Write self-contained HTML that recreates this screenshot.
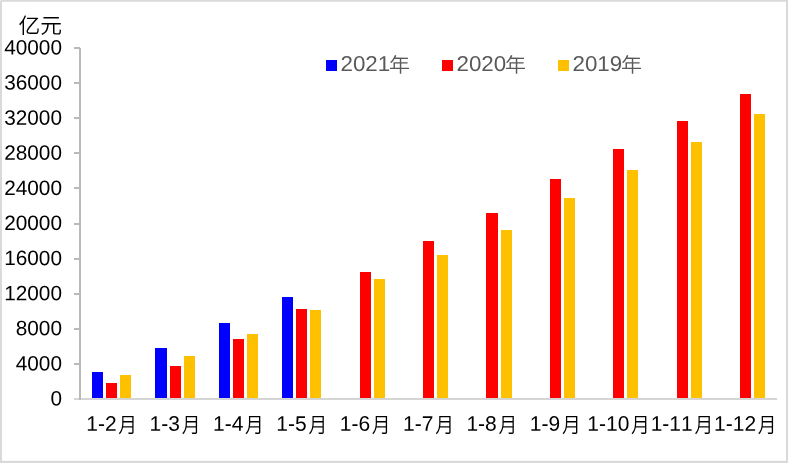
<!DOCTYPE html>
<html><head><meta charset="utf-8"><title>chart</title>
<style>
html,body{margin:0;padding:0;background:#fff;}
body{width:788px;height:463px;overflow:hidden;position:relative;}
.t{font-family:"Liberation Sans","Noto Sans CJK SC",sans-serif;font-size:21.0px;fill:#000;text-rendering:geometricPrecision;font-kerning:none;}
.g{fill:#595959;}
.m{font-size:21.1px;font-weight:350;}
.n{font-size:21px;font-weight:350;}
.u{font-size:21.3px;font-weight:350;}
.y{font-size:20.8px;}
.l{font-size:21.4px;}
</style></head><body>
<svg width="788" height="463" viewBox="0 0 788 463" style="position:absolute;left:0;top:0">
<rect x="0" y="0" width="788" height="463" fill="#fff"/>
<rect x="0" y="0" width="788" height="1.75" fill="#d9d9d9"/>
<rect x="0" y="0" width="1.95" height="463" fill="#d9d9d9"/>
<rect x="786" y="0" width="2" height="463" fill="#d9d9d9"/>
<rect x="0" y="460.8" width="788" height="2.2" fill="#d9d9d9"/>
<rect x="0" y="0" width="1" height="1" fill="#f2f2f2"/>
<g shape-rendering="crispEdges">
<rect x="92" y="372" width="11" height="26" fill="#0000ff"/>
<rect x="106" y="383" width="11" height="15" fill="#ff0000"/>
<rect x="120" y="375" width="11" height="23" fill="#ffc000"/>
<rect x="155" y="348" width="12" height="50" fill="#0000ff"/>
<rect x="170" y="366" width="11" height="32" fill="#ff0000"/>
<rect x="184" y="356" width="11" height="42" fill="#ffc000"/>
<rect x="219" y="323" width="11" height="75" fill="#0000ff"/>
<rect x="233" y="339" width="11" height="59" fill="#ff0000"/>
<rect x="247" y="334" width="11" height="64" fill="#ffc000"/>
<rect x="282" y="297" width="11" height="101" fill="#0000ff"/>
<rect x="296" y="309" width="11" height="89" fill="#ff0000"/>
<rect x="310" y="310" width="11" height="88" fill="#ffc000"/>
<rect x="360" y="272" width="11" height="126" fill="#ff0000"/>
<rect x="374" y="279" width="11" height="119" fill="#ffc000"/>
<rect x="423" y="241" width="11" height="157" fill="#ff0000"/>
<rect x="437" y="255" width="11" height="143" fill="#ffc000"/>
<rect x="486" y="213" width="12" height="185" fill="#ff0000"/>
<rect x="501" y="230" width="11" height="168" fill="#ffc000"/>
<rect x="550" y="179" width="11" height="219" fill="#ff0000"/>
<rect x="564" y="198" width="11" height="200" fill="#ffc000"/>
<rect x="613" y="149" width="11" height="249" fill="#ff0000"/>
<rect x="627" y="170" width="11" height="228" fill="#ffc000"/>
<rect x="677" y="121" width="11" height="277" fill="#ff0000"/>
<rect x="691" y="142" width="11" height="256" fill="#ffc000"/>
<rect x="740" y="94" width="11" height="304" fill="#ff0000"/>
<rect x="754" y="114" width="11" height="284" fill="#ffc000"/>
<rect x="74" y="398" width="703" height="2" fill="#d5d5d5"/>
<rect x="79" y="48" width="2" height="352" fill="#b9b9b9"/>
<rect x="74" y="363" width="6" height="2" fill="#b9b9b9"/>
<rect x="74" y="328" width="6" height="2" fill="#b9b9b9"/>
<rect x="74" y="293" width="6" height="2" fill="#b9b9b9"/>
<rect x="74" y="258" width="6" height="2" fill="#b9b9b9"/>
<rect x="74" y="223" width="6" height="2" fill="#b9b9b9"/>
<rect x="74" y="187" width="6" height="2" fill="#b9b9b9"/>
<rect x="74" y="152" width="6" height="2" fill="#b9b9b9"/>
<rect x="74" y="117" width="6" height="2" fill="#b9b9b9"/>
<rect x="74" y="82" width="6" height="2" fill="#b9b9b9"/>
<rect x="74" y="47" width="6" height="2" fill="#b9b9b9"/>
</g>
<text transform="translate(62.0,405.55) skewY(0.05)" text-anchor="end" class="t y">0</text>
<text transform="translate(62.0,370.45) skewY(0.05)" text-anchor="end" class="t y">4000</text>
<text transform="translate(62.0,335.35) skewY(0.05)" text-anchor="end" class="t y">8000</text>
<text transform="translate(62.0,300.25) skewY(0.05)" text-anchor="end" class="t y">12000</text>
<text transform="translate(62.0,265.15) skewY(0.05)" text-anchor="end" class="t y">16000</text>
<text transform="translate(62.0,230.05) skewY(0.05)" text-anchor="end" class="t y">20000</text>
<text transform="translate(62.0,194.95) skewY(0.05)" text-anchor="end" class="t y">24000</text>
<text transform="translate(62.0,159.85) skewY(0.05)" text-anchor="end" class="t y">28000</text>
<text transform="translate(62.0,124.75) skewY(0.05)" text-anchor="end" class="t y">32000</text>
<text transform="translate(62.0,89.65) skewY(0.05)" text-anchor="end" class="t y">36000</text>
<text transform="translate(62.0,54.55) skewY(0.05)" text-anchor="end" class="t y">40000</text>
<text transform="translate(18.6,33.35) skewY(0.05) scale(1.02,1)" class="t u">亿元</text>
<text transform="translate(86.26,430.75) skewY(0.05)" class="t">1-2</text>
<text transform="translate(118.35,432.4) skewY(0.05) scale(0.89,1)" class="t m">月</text>
<text transform="translate(149.62,430.75) skewY(0.05)" class="t">1-3</text>
<text transform="translate(181.72,432.4) skewY(0.05) scale(0.89,1)" class="t m">月</text>
<text transform="translate(212.99,430.75) skewY(0.05)" class="t">1-4</text>
<text transform="translate(245.08,432.4) skewY(0.05) scale(0.89,1)" class="t m">月</text>
<text transform="translate(276.35,430.75) skewY(0.05)" class="t">1-5</text>
<text transform="translate(308.45,432.4) skewY(0.05) scale(0.89,1)" class="t m">月</text>
<text transform="translate(339.71,430.75) skewY(0.05)" class="t">1-6</text>
<text transform="translate(371.81,432.4) skewY(0.05) scale(0.89,1)" class="t m">月</text>
<text transform="translate(403.08,430.75) skewY(0.05)" class="t">1-7</text>
<text transform="translate(435.17,432.4) skewY(0.05) scale(0.89,1)" class="t m">月</text>
<text transform="translate(466.44,430.75) skewY(0.05)" class="t">1-8</text>
<text transform="translate(498.54,432.4) skewY(0.05) scale(0.89,1)" class="t m">月</text>
<text transform="translate(529.80,430.75) skewY(0.05)" class="t">1-9</text>
<text transform="translate(561.90,432.4) skewY(0.05) scale(0.89,1)" class="t m">月</text>
<text transform="translate(587.33,430.75) skewY(0.05)" class="t">1-10</text>
<text transform="translate(631.10,432.4) skewY(0.05) scale(0.89,1)" class="t m">月</text>
<text transform="translate(650.69,430.75) skewY(0.05)" class="t">1-11</text>
<text transform="translate(694.47,432.4) skewY(0.05) scale(0.89,1)" class="t m">月</text>
<text transform="translate(714.06,430.75) skewY(0.05)" class="t">1-12</text>
<text transform="translate(757.83,432.4) skewY(0.05) scale(0.89,1)" class="t m">月</text>
<rect x="326" y="60" width="11" height="11" fill="#0000ff"/>
<text transform="translate(340.5,70.9) skewY(0.05) scale(1.045,1)" class="t g l">2021</text>
<text transform="translate(389.1,72.25) skewY(0.05) scale(1,0.975)" class="t g n">年</text>
<rect x="442" y="60" width="11" height="11" fill="#ff0000"/>
<text transform="translate(456.5,70.9) skewY(0.05) scale(1.045,1)" class="t g l">2020</text>
<text transform="translate(505.1,72.25) skewY(0.05) scale(1,0.975)" class="t g n">年</text>
<rect x="558" y="60" width="11" height="11" fill="#ffc000"/>
<text transform="translate(572.5,70.9) skewY(0.05) scale(1.045,1)" class="t g l">2019</text>
<text transform="translate(621.1,72.25) skewY(0.05) scale(1,0.975)" class="t g n">年</text>
</svg>
</body></html>
